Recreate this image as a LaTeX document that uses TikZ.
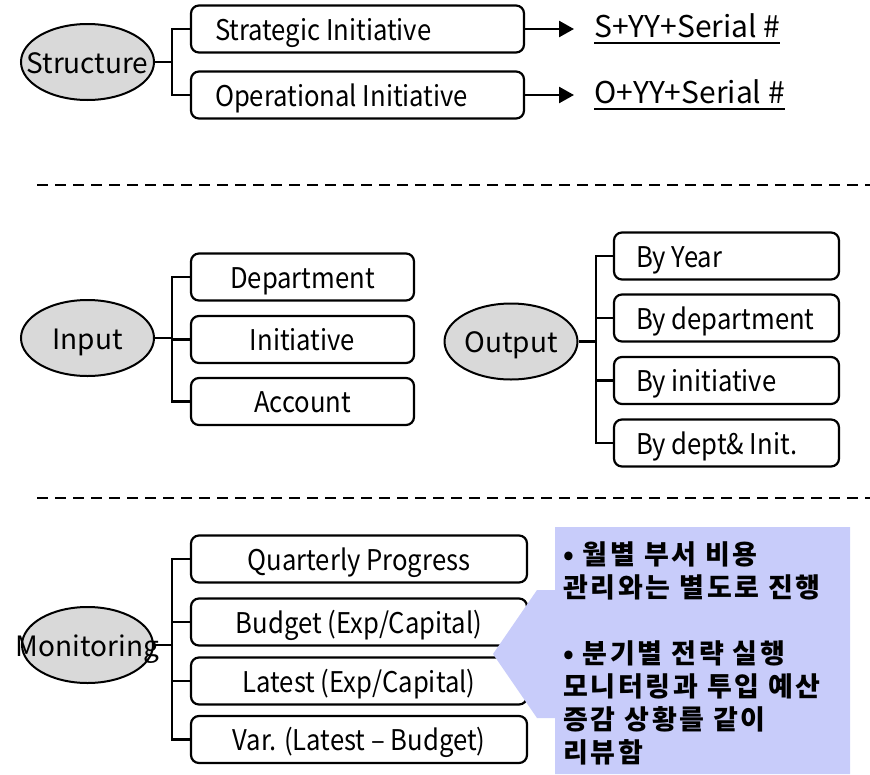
\documentclass[tikz,border=0pt]{standalone}
\usepackage{fontspec}
\setmainfont{Noto Sans CJK KR}
\newfontfamily\boxfont[FakeStretch=0.9,Ligatures=TeX]{Noto Sans CJK KR}
\newfontfamily\hangul[LetterSpace=10]{Noto Sans CJK KR}
\usetikzlibrary{arrows.meta,shapes.geometric}

\definecolor{notefill}{RGB}{200,204,250}

% text helpers
\newcommand\lbox[2]{\makebox[#1][l]{#2}}
\newcommand\midtext[1]{\makebox[0pt]{#1}}
\newcommand\codetext[1]{\setbox0\hbox{#1}\rlap{\rule[-6pt]{\wd0}{1.6pt}}\box0}

\begin{document}
\begin{tikzpicture}[x=1pt,y=-1pt,
  topic/.style={ellipse,draw,line width=2pt,fill=black!15,minimum width=133pt,
    minimum height=76pt,inner sep=0pt,text height=24pt,text depth=2pt,
    font=\fontsize{28}{34}\selectfont},
  item/.style={draw,rounded corners=8pt,line width=2.2pt,minimum height=47pt,
    inner ysep=0pt,inner xsep=0pt,text height=24pt,text depth=2pt,
    font=\boxfont\fontsize{28.5}{34}\selectfont},
  code/.style={anchor=west,inner xsep=20pt,font=\fontsize{30}{34}\selectfont},
  link/.style={line width=2.6pt},
  sep/.style={line width=2pt,dash pattern=on 11pt off 7pt}]

  \useasboundingbox (0,0) rectangle (870,774);

  % Structure
  \node[topic] (struct) at (87.5,62) {\midtext{Structure}};
  \node[item,inner xsep=24pt] (strat) at (357.5,29) {\lbox{285pt}{Strategic Initiative}};
  \node[item,inner xsep=24pt] (oper) at (357.5,95) {\lbox{285pt}{Operational Initiative}};
  \node[code] (scode) at (574,29) {\codetext{S+YY+Serial \#}};
  \node[code] (ocode) at (574,95) {\codetext{O+YY+Serial \#}};

  \coordinate (sj) at (172,62);
  \draw[link] (struct) -- (sj);
  \draw[link] (strat.west) -| (sj) |- (oper.west);
  \draw[link,-{Triangle[length=15pt,width=16pt]}] (strat.east) -- (scode.west);
  \draw[link,-{Triangle[length=15pt,width=16pt]}] (oper.east) -- (ocode.west);

  \draw[sep] (37,185) -- (870,185);

  % Input
  \node[topic] (input) at (87.5,338) {\midtext{Input}};
  \node[item,minimum width=223pt] (dept) at (302.5,277) {Department};
  \node[item,minimum width=223pt] (init) at (302.5,339.5) {Initiative};
  \node[item,minimum width=223pt] (acct) at (302.5,401.5) {Account};

  \coordinate (ij) at (172,338);
  \draw[link] (input) -- (ij);
  \draw[link] (dept.west) -| (ij) |- (acct.west);
  \draw[link] (ij |- init.west) -- (init.west);

  % Output
  \node[topic] (output) at (511,341.5) {\midtext{Output}};
  \node[item,inner xsep=22pt] (year) at (726.5,256) {\lbox{181pt}{By Year}};
  \node[item,inner xsep=22pt] (bydept) at (726.5,318) {\lbox{181pt}{By department}};
  \node[item,inner xsep=22pt] (byinit) at (726.5,380.5) {\lbox{181pt}{By initiative}};
  \node[item,inner xsep=22pt] (both) at (726.5,443) {\lbox{181pt}{By dept\& Init.}};

  \coordinate (oj) at (596,341.5);
  \draw[link] (output) -- (oj);
  \draw[link] (year.west) -| (oj) |- (both.west);
  \draw[link] (oj |- bydept.west) -- (bydept.west);
  \draw[link] (oj |- byinit.west) -- (byinit.west);

  \draw[sep] (37,498) -- (870,498);

  % Monitoring
  \node[topic,minimum width=131pt] (monit) at (87.5,645) {\midtext{Monitoring}};
  \node[item,minimum width=336pt] (quart) at (359,559) {Quarterly Progress};
  \node[item,minimum width=336pt] (budget) at (359,622) {Budget (Exp/Capital)};
  \node[item,minimum width=336pt] (latest) at (359,681) {Latest (Exp/Capital)};
  \node[item,minimum width=336pt] (var) at (359,739.5) {Var. (Latest – Budget)};

  \coordinate (mj) at (172,645);
  \draw[link] (monit) -- (mj);
  \draw[link] (quart.west) -| (mj) |- (var.west);
  \draw[link] (mj |- budget.west) -- (budget.west);
  \draw[link] (mj |- latest.west) -- (latest.west);

  % remark
  \fill[notefill] (555,527) -- (850,527) -- (850,774) -- (555,774) -- (555,718)
    -- (537,718) -- (493,654) -- (537,590) -- (555,590) -- cycle;
  \node[anchor=north west,inner sep=0pt,align=left,
    font=\hangul\bfseries\fontsize{27}{33}\selectfont] (memo) at (563,541)
    {• 월별 부서 비용\\
     관리와는 별도로 진행\\[33pt]
     • 분기별 전략 실행\\
     모니터링과 투입 예산\\
     증감 상황를 같이\\
     리뷰함};

\end{tikzpicture}
\end{document}
